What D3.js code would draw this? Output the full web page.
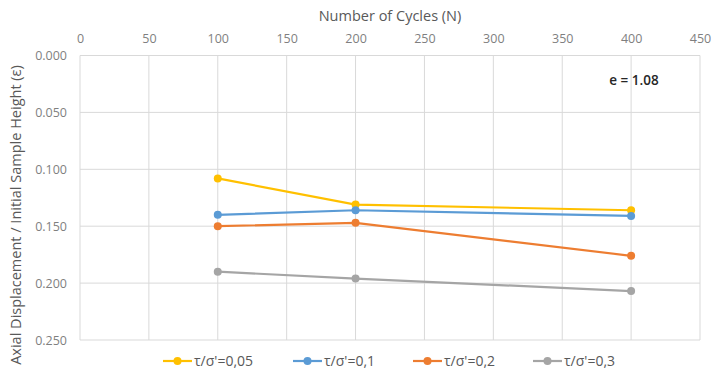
<!DOCTYPE html>
<html>
<head>
<meta charset="utf-8">
<script src="https://cdn.jsdelivr.net/npm/d3@7"></script>
<style>
  body { margin: 0; background: #fff; }
  text { font-family: "Open Sans", "Noto Sans", sans-serif; }
</style>
</head>
<body>
<svg id="chart" width="718" height="387"></svg>
<script>
// data
const cycles = [100, 200, 400];
const seriesNames = ["τ/σ'=0,05", "τ/σ'=0,1", "τ/σ'=0,2", "τ/σ'=0,3"];
const strain005 = [0.108, 0.131, 0.136];
const strain01 = [0.140, 0.136, 0.141];
const strain02 = [0.150, 0.147, 0.176];
const strain03 = [0.190, 0.196, 0.207];
const colors = ["#FFC000", "#5B9BD5", "#ED7D31", "#A5A5A5"];
const xTicks = [0, 50, 100, 150, 200, 250, 300, 350, 400, 450];
const yTicks = [0, 0.05, 0.1, 0.15, 0.2, 0.25];

const series = [strain005, strain01, strain02, strain03].map((vals, i) => ({
  name: seriesNames[i],
  color: colors[i],
  points: vals.map((v, j) => [cycles[j], v])
}));

const svg = d3.select("#chart");
const x = d3.scaleLinear().domain([0, 450]).range([80, 700]);
const y = d3.scaleLinear().domain([0, 0.25]).range([55.5, 340]);

// gridlines
svg.append("g").selectAll("line").data(xTicks).join("line")
  .attr("x1", d => x(d)).attr("x2", d => x(d))
  .attr("y1", y(0)).attr("y2", y(0.25))
  .attr("stroke", "#d9d9d9").attr("stroke-width", 1);
svg.append("g").selectAll("line").data(yTicks).join("line")
  .attr("x1", x(0)).attr("x2", x(450))
  .attr("y1", d => y(d)).attr("y2", d => y(d))
  .attr("stroke", "#d9d9d9").attr("stroke-width", 1);

// axes (top x, left y)
const xAxis = svg.append("g")
  .attr("transform", "translate(0," + y(0) + ")")
  .call(d3.axisTop(x).tickValues(xTicks).tickSize(0).tickPadding(13));
const yAxis = svg.append("g")
  .attr("transform", "translate(" + x(0) + ",0)")
  .call(d3.axisLeft(y).tickValues(yTicks).tickFormat(d3.format(".3f")).tickSize(0).tickPadding(13));
[xAxis, yAxis].forEach(g => {
  g.select(".domain").remove();
  g.selectAll("text").attr("fill", "#7f7f7f").style("font-size", "12.5px")
    .style("font-family", "'Open Sans', sans-serif");
});

// axis titles
svg.append("text")
  .attr("x", 390).attr("y", 21)
  .attr("text-anchor", "middle")
  .attr("fill", "#595959").style("font-size", "14.5px")
  .text("Number of Cycles (N)");
svg.append("text")
  .attr("transform", "translate(21,215) rotate(-90)")
  .attr("text-anchor", "middle")
  .attr("fill", "#595959").style("font-size", "14.5px")
  .text("Axial Displacement / Initial Sample Height (ε)");

// annotation
svg.append("text")
  .attr("x", 634).attr("y", 85)
  .attr("text-anchor", "middle")
  .attr("fill", "#262626").style("font-size", "13.5px").style("font-weight", "600")
  .text("e = 1.08");

// lines + markers
const line = d3.line().x(d => x(d[0])).y(d => y(d[1]));
series.forEach(s => {
  svg.append("path").datum(s.points)
    .attr("d", line).attr("fill", "none")
    .attr("stroke", s.color).attr("stroke-width", 2.2);
  svg.append("g").selectAll("circle").data(s.points).join("circle")
    .attr("cx", d => x(d[0])).attr("cy", d => y(d[1]))
    .attr("r", 4).attr("fill", s.color);
});

// legend
const legendX = [163, 293, 413, 533];
const legend = svg.append("g").selectAll("g").data(series).join("g")
  .attr("transform", (d, i) => "translate(" + legendX[i] + ",361)");
legend.append("line").attr("x1", 0).attr("x2", 29)
  .attr("stroke", d => d.color).attr("stroke-width", 2.2);
legend.append("circle").attr("cx", 14.5).attr("r", 4).attr("fill", d => d.color);
legend.append("text").attr("x", 31).attr("y", 5)
  .attr("fill", "#595959").style("font-size", "14px")
  .text(d => d.name);
</script>
</body>
</html>
